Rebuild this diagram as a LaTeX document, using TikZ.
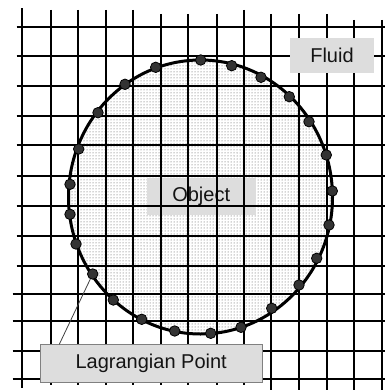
\documentclass[tikz,border=0pt]{standalone}
\usepackage{fontspec}
\setmainfont{Liberation Sans}
\usetikzlibrary{patterns}
\definecolor{boxgray}{HTML}{DDDDDD}
\definecolor{dotfill}{HTML}{333333}
\definecolor{edgegray}{HTML}{808080}
\tikzset{
  gridline/.style={line width=2.3pt, black},
  labelbox/.style={fill=boxgray, inner sep=0pt, font=\fontsize{20}{24}\selectfont, text=black!92},
  ldot/.style={circle, fill=dotfill, draw=black, line width=0.8pt, minimum size=10.5pt, inner sep=0pt},
  leader/.style={line width=0.8pt, black!75},
}
\begin{document}
\begin{tikzpicture}[x=1pt,y=-1pt]
\path[fill=white] (0,0) rectangle (385,390);
\useasboundingbox (0,0) rectangle (385,390);
% object interior
\path[pattern=dots, pattern color=black!70] (200.5,197) ellipse [x radius=132, y radius=137];
\node[labelbox, minimum width=109pt, minimum height=36.7pt] (obj) at (201.2,196.7) {Object};
% grid: vertical lines
\foreach \x/\t/\b in {22.3/8.3/388, 51/10/385, 78/10/385, 105.7/10/385, 133/10/385,
  161/14/385, 188/14/385, 216.7/14/385, 244.3/10/385, 271.3/14/390, 298.7/14/390,
  327.3/14/390, 354.3/20/390, 382.3/20/390}
  \draw[gridline] (\x,\t) -- (\x,\b);
% grid: horizontal lines
\foreach \y/\l in {26.7/16.7, 56/16.7, 86/16.7, 115.7/16.7, 145/16.7, 175.7/16.7,
  205.7/16.7, 235.7/16.7, 265.7/16.7, 293.7/12.7, 321/12.7, 351/12.7, 379/12.7}
  \draw[gridline] (\l,\y) -- (385,\y);
% object boundary
\draw[line width=3pt] (200.5,197) ellipse [x radius=132, y radius=137];
% Lagrangian points
\foreach \n/\x/\y in {1/155.7/67.3, 2/125/84.3, 3/98/112.7, 4/78.7/149, 5/70/184.3,
  6/70/214.3, 7/76/244, 8/92.7/274, 9/113.3/300, 10/141.7/319.3, 11/174.7/331,
  12/210.7/333.3, 13/241/327.3, 14/271.7/308.3, 15/299/285, 16/316.7/258.3,
  17/329/225, 18/332.3/191, 19/326.3/155, 20/309/121.7, 21/289.3/96.7,
  22/261/77.3, 23/231.7/65.7, 24/200.7/60}
  \node[ldot] (d\n) at (\x,\y) {};
% labels
\node[labelbox, minimum width=84pt, minimum height=35.6pt] (fluid) at (332,55.5) {Fluid};
\node[labelbox, draw=edgegray, line width=0.9pt, minimum width=222.3pt, minimum height=38pt] (lag) at (151.2,363.3) {Lagrangian Point};
\coordinate (lagtop) at (59.3,344.3);
\draw[leader] (lagtop) -- (d8);
\end{tikzpicture}
\end{document}
